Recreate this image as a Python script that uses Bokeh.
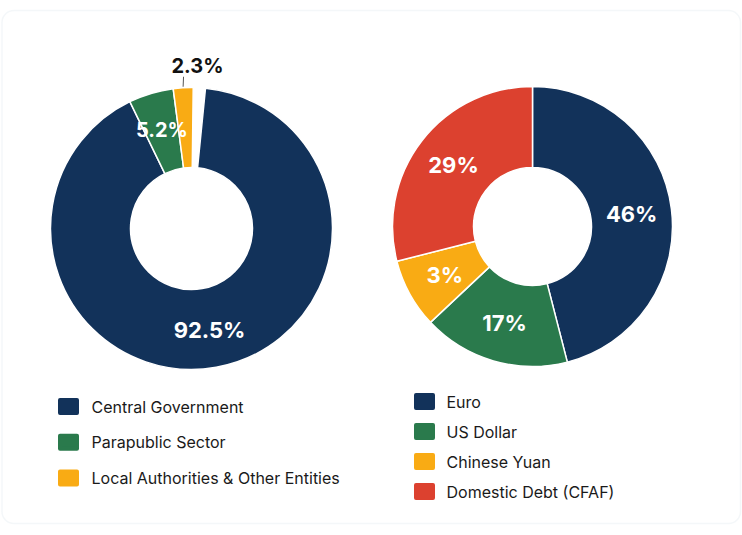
import numpy as np

from bokeh.core.properties import value
from bokeh.embed import file_html
from bokeh.models import BoxAnnotation, ColumnDataSource, Range1d
from bokeh.plotting import figure
from bokeh.resources import INLINE

# debt by borrower
sector_names = ["Central Government", "Parapublic Sector", "Local Authorities & Other Entities"]
sector_share = [92.5, 5.2, 2.3]
sector_colors = ["#12325a", "#2a7a4c", "#f9ab14"]

# debt by currency (arc sizes as drawn, labels as printed)
currency_names = ["Euro", "US Dollar", "Chinese Yuan", "Domestic Debt (CFAF)"]
currency_share = [46, 17, 8, 29]
currency_labels = ["46%", "17%", "3%", "29%"]
currency_colors = ["#12325a", "#2a7a4c", "#f9ab14", "#dc412f"]

W, H = 742, 535
FONT = "Inter"


def pos(x, y):
    # page pixel -> plot coordinates
    return x, H - y


def donut(shares, start_deg, span_deg, cx, cy, r_label):
    shares = np.asarray(shares, dtype=float)
    ang = shares / shares.sum() * span_deg
    c1 = start_deg + np.cumsum(ang)
    c0 = c1 - ang
    mid = np.radians((c0 + c1) / 2)
    return dict(start=np.radians(90 - c1), end=np.radians(90 - c0),
                lx=cx + r_label * np.sin(mid), ly=cy + r_label * np.cos(mid),
                mid=mid)


p = figure(width=W, height=H, x_range=Range1d(0, W), y_range=Range1d(0, H),
           output_backend="svg", toolbar_location=None, tools="",
           min_border=0, background_fill_color="white", border_fill_color="white")
p.axis.visible = False
p.grid.visible = False
p.outline_line_color = None

# card
cl, ct = pos(1.5, 10)
cr, cb = pos(740, 523)
p.add_layout(BoxAnnotation(left=cl, right=cr, top=ct, bottom=cb, fill_color="white",
                           fill_alpha=1, line_color="#dbe3ec", line_width=1.5,
                           border_radius=12, level="underlay"))

# left donut
lcx, lcy = pos(191, 228)
left = donut(sector_share, 5.7, 355, lcx, lcy, 103)
lsrc = ColumnDataSource(dict(start=left["start"], end=left["end"], color=sector_colors))
p.annular_wedge(x=lcx, y=lcy, inner_radius=61, outer_radius=141, start_angle="start",
                end_angle="end", color="color", line_color="white", line_width=1.5,
                source=lsrc)

inside = ColumnDataSource(dict(x=left["lx"][:2], y=left["ly"][:2],
                               t=[f"{v}%" for v in sector_share[:2]],
                               size=["22px", "20px"]))
p.text(x="x", y="y", text="t", source=inside, text_color="white", text_font_size="size",
       text_font=value(FONT), text_font_style="bold", text_align="center",
       text_baseline="middle")

# outside label for the small slice
m = left["mid"][2]
r0, r1 = 142, 152
p.line(x=[lcx + r0 * np.sin(m), lcx + r1 * np.sin(m) + 1],
       y=[lcy + r0 * np.cos(m), lcy + r1 * np.cos(m)], line_color="#555555", line_width=1)
p.text(x=[lcx + r1 * np.sin(m) + 15], y=[lcy + r1 * np.cos(m) + 11],
       text=[f"{sector_share[2]}%"], text_color="#111111", text_font_size="20px",
       text_font=value(FONT), text_font_style="bold", text_align="center",
       text_baseline="middle")

# right donut
rcx, rcy = pos(532, 226)
right = donut(currency_share, 0, 360, rcx, rcy, 100)
rsrc = ColumnDataSource(dict(start=right["start"], end=right["end"], color=currency_colors,
                             lx=right["lx"], ly=right["ly"], t=currency_labels))
p.annular_wedge(x=rcx, y=rcy, inner_radius=59, outer_radius=140, start_angle="start",
                end_angle="end", color="color", line_color="white", line_width=1.5,
                source=rsrc)
p.text(x="lx", y="ly", text="t", source=rsrc, text_color="white", text_font_size="22px",
       text_font=value(FONT), text_font_style="bold", text_align="center",
       text_baseline="middle")


# legends
def legend(names, colors, sx, sy, step, tx):
    ys = [pos(0, sy + i * step)[1] for i in range(len(names))]
    x0 = pos(sx, 0)[0]
    p.rect(x=[x0] * len(names), y=ys, width=17, height=13, fill_color=colors,
           line_color=colors, line_width=4, line_join="round")
    p.text(x=[pos(tx, 0)[0]] * len(names), y=ys, text=names, text_color="#1a1a1a",
           text_font_size="16px", text_font=value(FONT), text_align="left",
           text_baseline="middle")


legend(sector_names, sector_colors, 68, 406, 35.75, 91)
legend(currency_names, currency_colors, 424, 401, 30, 446)

open("out.html", "w").write(file_html(p, INLINE))
